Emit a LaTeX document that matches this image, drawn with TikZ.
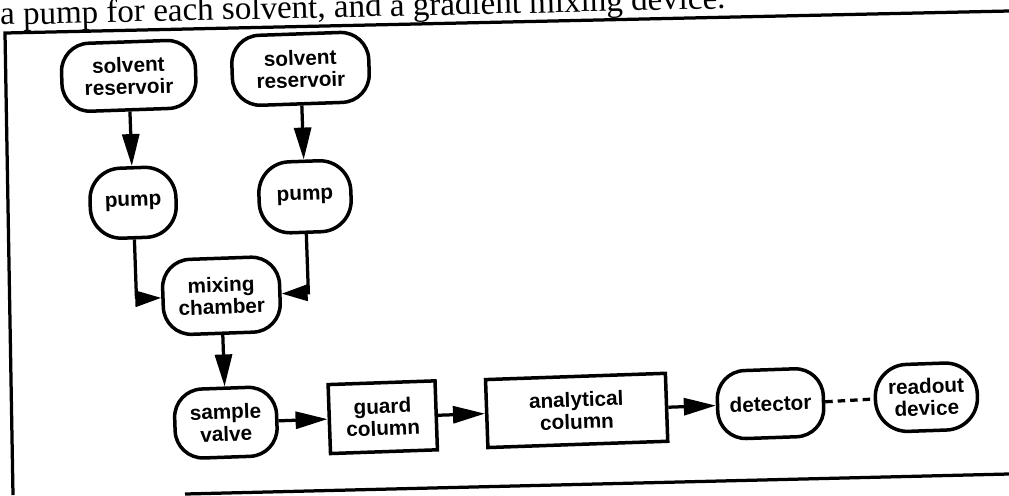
\documentclass[tikz,border=0pt]{standalone}
\usepackage{fontspec}
\setmainfont{Liberation Serif}
\newfontfamily\boxfont{Liberation Sans}
\usetikzlibrary{arrows.meta}
\begin{document}
\begin{tikzpicture}[x=0.02cm,y=-0.02cm,
  frameline/.style={line width=0.065cm, line join=miter},
  boxtext/.style={align=center, inner sep=0pt,
    font=\boxfont\bfseries\fontsize{11.8}{12.6}\selectfont},
  rbox/.style={boxtext, draw, line width=0.07cm, rounded corners=0.56cm},
  sbox/.style={boxtext, draw, line width=0.07cm},
  flow/.style={line width=0.065cm, -{Triangle[length=0.64cm,width=0.34cm]}},
  flowshort/.style={line width=0.065cm, -{Triangle[length=0.52cm,width=0.32cm]}},
  dashline/.style={line width=0.065cm, dash pattern=on 0.15cm off 0.1cm}
]
\useasboundingbox (0,0) rectangle (1009,495);
\fill[white] (0,0) rectangle (1009,495);

% caption fragment at top
\node[anchor=base west, rotate=1.3, inner sep=0pt,
      font=\fontsize{18.8}{20}\selectfont] (caption) at (0,25)
  {a pump for each solvent, and a gradient mixing device.};

% frame
\coordinate (fbl) at (13,495);
\coordinate (ftl) at (5,33);
\coordinate (ftr) at (1009,11);
\coordinate (bl) at (185,494);
\coordinate (br) at (1009,474);
\draw[frameline] (fbl) -- (ftl) -- (ftr);
\draw[frameline] (bl) -- (br);

\begin{scope}[rotate around={2:(500,250)}, transform shape]
\node[rbox, minimum width=2.68cm, minimum height=1.36cm] (r1) at (135,63) {solvent\\reservoir};
\node[rbox, minimum width=2.74cm, minimum height=1.4cm] (r2) at (307,62) {solvent\\reservoir};
\node[rbox, minimum width=1.72cm, minimum height=1.4cm, rounded corners=0.62cm] (p1) at (135,190) {pump};
\node[rbox, minimum width=1.84cm, minimum height=1.42cm, rounded corners=0.62cm] (p2) at (307,190) {pump};
\node[rbox, minimum width=2.34cm, minimum height=1.5cm] (mix) at (220,286) {mixing\\chamber};
\node[rbox, minimum width=2.04cm, minimum height=1.38cm] (valve) at (220,413) {sample\\valve};
\node[sbox, minimum width=2.14cm, minimum height=1.38cm] (guard) at (377,413) {guard\\column};
\node[sbox, minimum width=3.6cm, minimum height=1.36cm] (anal) at (571,413) {analytical\\column};
\node[rbox, minimum width=2.12cm, minimum height=1.36cm] (det) at (765,413) {detector};
\node[rbox, minimum width=2.04cm, minimum height=1.34cm, rounded corners=0.64cm] (read) at (921,412) {readout\\device};

\draw[flow] (r1.south) -- (p1.north);
\draw[flow] (r2.south) -- (p2.north);
\draw[flowshort] (p1.south) |- (mix.west);
\draw[flowshort] (p2.south) |- (mix.east);
\draw[flow] (mix.south) -- (valve.north);
\draw[flow] (valve.east) -- (guard.west);
\draw[flow] (guard.east) -- (anal.west);
\draw[flow] (anal.east) -- (det.west);
\draw[dashline] (det.east) -- (read.west);
\end{scope}
\end{tikzpicture}
\end{document}
